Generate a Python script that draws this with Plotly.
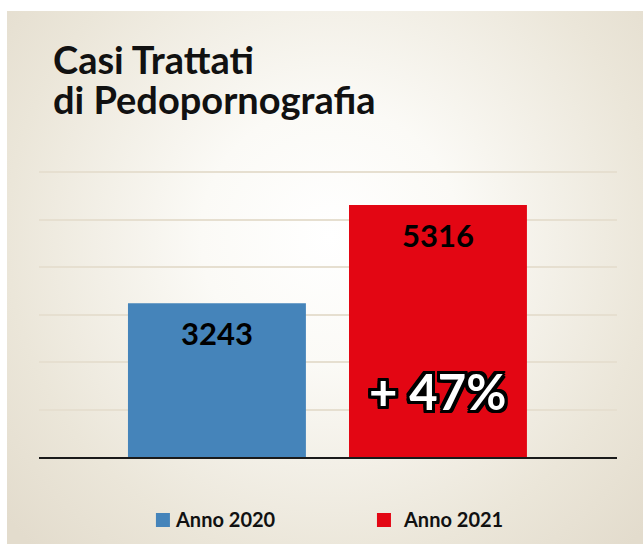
import base64
import plotly.graph_objects as go

# ---- data ----
CATEGORIES = ["Anno 2020", "Anno 2021"]
VALUES = [3243, 5316]
COLORS = ["#4584BA", "#E30613"]
TITLE_LINES = ["Casi Trattati", "di Pedopornografia"]
CHANGE_LABEL = "+ 47%"
GRID_STEP = 1000
Y_MAX = 6200

# ---- layout geometry (pixels) ----
W_FIG, H_FIG = 643, 544
L, R, T, B = 39, 617, 163, 457
PW, PH = R - L, B - T


def px(x):
    return (x - L) / PW


def py(y):
    return (B - y) / PH


FONT = "Lato, 'Open Sans', sans-serif"

# background radial gradient (beige edges, light centre)
BG_X0, BG_Y0 = 7, 11
BG_W, BG_H = W_FIG - BG_X0, H_FIG - BG_Y0
svg = f'''<svg xmlns="http://www.w3.org/2000/svg" width="{BG_W}" height="{BG_H}" viewBox="0 0 {BG_W} {BG_H}" preserveAspectRatio="none">
<defs><radialGradient id="g" gradientUnits="userSpaceOnUse" cx="323" cy="225" r="430">
<stop offset="0" stop-color="#ffffff"/>
<stop offset="0.3" stop-color="#fbfaf6"/>
<stop offset="0.75" stop-color="#ebe6d9"/>
<stop offset="1" stop-color="#e3dccd"/>
</radialGradient></defs>
<rect width="{BG_W}" height="{BG_H}" fill="url(#g)"/></svg>'''
bg_src = "data:image/svg+xml;base64," + base64.b64encode(svg.encode()).decode()

fig = go.Figure()
for cat, val, col in zip(CATEGORIES, VALUES, COLORS):
    fig.add_trace(go.Bar(
        x=[cat], y=[val], name=cat, marker=dict(color=col, line=dict(width=0)),
        width=0.805, showlegend=False, hoverinfo="x+y",
    ))

annotations = []
# title: one text, tight line spacing (base size sets spacing, span sets glyph size)
title_text = "<br>".join(
    f"<span style='font-size:38px'>{line}</span>" for line in TITLE_LINES
)
annotations.append(dict(
    text=title_text, xref="paper", yref="paper", x=px(51), y=py(34),
    xanchor="left", yanchor="top", align="left", showarrow=False,
    font=dict(family=FONT, size=31, color="#111111", weight="bold"),
))
# value labels
for cat, val in zip(CATEGORIES, VALUES):
    annotations.append(dict(
        text=str(val), xref="x", yref="y", x=cat, y=val, yshift=-30,
        xanchor="center", yanchor="middle", showarrow=False,
        font=dict(family=FONT, size=31, color="#000000", weight="bold"),
    ))
# change label with outline
offs = []
for dx in (-3, -2, 0, 2, 3):
    for dy in (-3, -2, 0, 2, 3):
        if dx == 0 and dy == 0:
            continue
        offs.append(f"{dx}px {dy}px 0 #000")
annotations.append(dict(
    text=CHANGE_LABEL, xref="x", yref="paper", x=CATEGORIES[1], y=py(391),
    xanchor="center", yanchor="middle", showarrow=False,
    font=dict(family=FONT, size=49, color="#ffffff", weight="bold",
              shadow=", ".join(offs)),
))
# legend
LEG_Y = 520
LEG_TEXT_SHIFT = [-41, -34]
shapes = []
for i, (cat, col) in enumerate(zip(CATEGORIES, COLORS)):
    shapes.append(dict(
        type="rect", xref="x", xsizemode="pixel", xanchor=i, x0=-61, x1=-47,
        yref="paper", ysizemode="pixel", yanchor=py(LEG_Y), y0=-7, y1=7,
        fillcolor=col, line=dict(width=0), layer="above",
    ))
    annotations.append(dict(
        text=cat, xref="x", yref="paper", x=i, xshift=LEG_TEXT_SHIFT[i] - 3,
        y=py(LEG_Y - 1), xanchor="left", yanchor="middle", showarrow=False,
        font=dict(family=FONT, size=20, color="#111111", weight="bold"),
    ))

fig.update_layout(
    width=W_FIG, height=H_FIG, autosize=False,
    margin=dict(l=L, r=W_FIG - R, t=T, b=H_FIG - B, pad=0),
    paper_bgcolor="#ffffff", plot_bgcolor="rgba(0,0,0,0)",
    barmode="overlay", showlegend=False,
    annotations=annotations, shapes=shapes,
    images=[dict(
        source=bg_src, xref="paper", yref="paper",
        x=px(BG_X0), y=py(BG_Y0), sizex=BG_W / PW, sizey=BG_H / PH,
        xanchor="left", yanchor="top", sizing="stretch", layer="below",
    )],
    xaxis=dict(
        type="category", categoryorder="array", categoryarray=CATEGORIES,
        range=[-0.805, 1.81], showticklabels=False, showgrid=False,
        zeroline=False, showline=True, linecolor="#1a1a1a", linewidth=2,
        ticks="", fixedrange=True,
    ),
    yaxis=dict(
        range=[0, Y_MAX], tick0=0, dtick=GRID_STEP, showticklabels=False,
        showgrid=True, gridcolor="#e6dfd0", gridwidth=2, zeroline=False,
        showline=False, ticks="", fixedrange=True,
    ),
)

fig.write_html("out.html")
